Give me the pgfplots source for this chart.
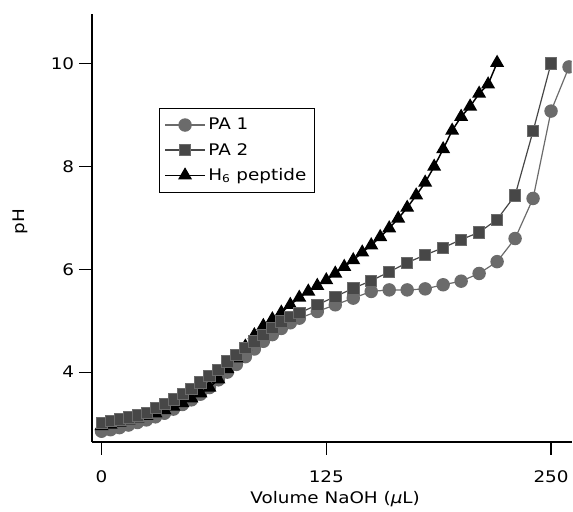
\documentclass[border=0pt]{standalone}
\usepackage{fontspec}
\setmainfont{DejaVu Sans}[FakeStretch=1.15]
\usepackage{pgfplots}
\pgfplotsset{compat=1.18}
\definecolor{paone}{HTML}{6B6B6B}
\definecolor{patwo}{HTML}{474747}

\pgfplotstableread{
x y
0 2.85
5 2.88
10 2.92
15 2.97
20 3.02
25 3.07
30 3.13
35 3.20
40 3.28
45 3.37
50 3.46
55 3.57
60 3.70
65 3.85
70 4.00
75 4.15
80 4.30
85 4.45
90 4.60
95 4.73
100 4.85
105 4.96
110 5.05
120 5.18
130 5.31
140 5.44
150 5.57
160 5.60
170 5.60
180 5.62
190 5.70
200 5.77
210 5.92
220 6.15
230 6.60
240 7.38
250 9.08
260 9.94
}\paone

\pgfplotstableread{
x y
0 3.02
5 3.05
10 3.08
15 3.12
20 3.16
25 3.21
30 3.30
35 3.38
40 3.47
45 3.57
50 3.67
55 3.80
60 3.92
65 4.05
70 4.21
75 4.34
80 4.47
85 4.60
90 4.73
95 4.86
100 4.99
105 5.08
110 5.15
120 5.31
130 5.47
140 5.63
150 5.78
160 5.95
170 6.13
180 6.28
190 6.42
200 6.58
210 6.72
220 6.97
230 7.44
240 8.69
250 10.01
}\patwo

\pgfplotstableread{
x y
0 2.95
5 2.98
10 3.02
15 3.06
20 3.10
25 3.15
30 3.20
35 3.26
40 3.33
45 3.40
50 3.49
55 3.59
60 3.70
65 3.86
70 4.06
75 4.27
80 4.50
85 4.72
90 4.90
95 5.03
100 5.16
105 5.31
110 5.45
115 5.57
120 5.68
125 5.79
130 5.92
135 6.05
140 6.18
145 6.33
150 6.47
155 6.63
160 6.80
165 6.99
170 7.20
175 7.44
180 7.69
185 8.00
190 8.34
195 8.70
200 8.97
205 9.17
210 9.42
215 9.60
220 10.02
}\hsix

\begin{document}
\begin{tikzpicture}
\begin{axis}[
  scale only axis,
  width=360.75pt, height=321.75pt,
  xmin=-5.4, xmax=261.5, ymin=2.64, ymax=10.97,
  axis x line=bottom, axis y line=left,
  axis line style={line width=1.3pt, -},
  xtick={0,125,250}, ytick={4,6,8,10},
  minor tick num=0,
  tick align=outside, major tick length=9.75pt,
  tick style={line width=0.9pt, black},
  tick label style={font=\fontsize{12}{14}\selectfont},
  xticklabel style={yshift=-8pt},
  label style={font=\fontsize{12}{14}\selectfont},
  /pgf/number format/assume math mode=true,
  xlabel={Volume NaOH ({\itshape µ}L)}, ylabel={pH},
  xlabel style={at={(axis description cs:0.507,-0.133)}, anchor=center},
  ylabel style={at={(axis description cs:-0.148,0.515)}, anchor=center},
  legend style={at={(axis description cs:0.139,0.781)}, anchor=north west,
    draw=black, line width=0.8pt, font=\fontsize{12}{14}\selectfont,
    row sep=4.5pt, inner xsep=4pt, inner ysep=5.5pt},
  legend cell align=left,
  legend image code/.code={\draw[mark repeat=2,mark phase=2,#1]
    plot coordinates {(0pt,0pt) (15pt,0pt) (30pt,0pt)};},
  clip marker paths=true,
]
  \addplot[paone, line width=0.9pt, mark=*, mark size=4.6pt,
    mark options={fill=paone, draw=paone}, forget plot] table {\paone};
  \addplot[black, line width=1.1pt, mark=triangle*, mark size=5pt,
    mark options={fill=black, draw=black}, forget plot] table {\hsix};
  \addplot[patwo, line width=0.9pt, mark=square*, mark size=4.2pt,
    mark options={fill=patwo, draw=paone, line width=0.5pt}, forget plot] table {\patwo};

  \addlegendimage{paone, line width=0.9pt, mark=*, mark size=4.6pt, mark options={fill=paone, draw=paone}}
  \addlegendentry{PA 1}
  \addlegendimage{patwo, line width=0.9pt, mark=square*, mark size=4.2pt, mark options={fill=patwo, draw=paone, line width=0.5pt}}
  \addlegendentry{PA 2}
  \addlegendimage{black, line width=1.1pt, mark=triangle*, mark size=5pt, mark options={fill=black, draw=black}}
  \addlegendentry{H\textsubscript{6} peptide}
\end{axis}
\path (current axis.north west) ++(0,10.5pt);
\path (current axis.south west) ++(-69pt,0);
\end{tikzpicture}
\end{document}
